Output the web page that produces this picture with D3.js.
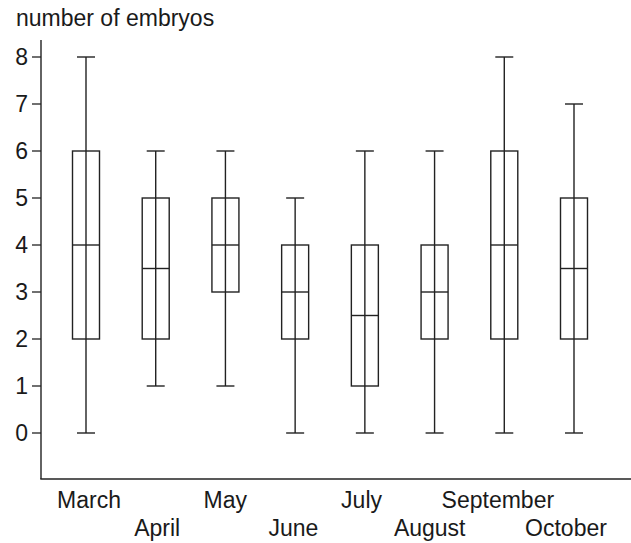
<!DOCTYPE html>
<html>
<head>
<meta charset="utf-8">
<script src="https://cdn.jsdelivr.net/npm/d3@7.9.0/dist/d3.min.js"></script>
<style>
  body { margin: 0; background: #fff; }
  svg text { font-family: "Liberation Sans", Arial, sans-serif; fill: #1a1a1a; }
</style>
</head>
<body>
<svg id="chart" width="631" height="543"></svg>
<script>
const months = ['March', 'April', 'May', 'June', 'July', 'August', 'September', 'October'];
const mins    = [0, 1, 1, 0, 0, 0, 0, 0];
const q1s     = [2, 2, 3, 2, 1, 2, 2, 2];
const medians = [4, 3.5, 4, 3, 2.5, 3, 4, 3.5];
const q3s     = [6, 5, 5, 4, 4, 4, 6, 5];
const maxs    = [8, 6, 6, 5, 6, 6, 8, 7];
const yTicks  = [0, 1, 2, 3, 4, 5, 6, 7, 8];

const svg = d3.select('#chart');
const ink = '#222';
const fs = 23;

let x = d3.scalePoint().domain(months).range([86, 574]);
// labels sit on a slightly tighter spread than the boxes
let xLabel = d3.scalePoint().domain(months).range([89, 566]);
let y = d3.scaleLinear().domain([0, 8]).range([433, 57]);

// axes
svg.append('line')
  .attr('x1', 41).attr('x2', 41)
  .attr('y1', 40).attr('y2', 479)
  .attr('stroke', ink).attr('stroke-width', 1.4);
svg.append('line')
  .attr('x1', 40.3).attr('x2', 631)
  .attr('y1', 479).attr('y2', 479)
  .attr('stroke', ink).attr('stroke-width', 1.4);

yTicks.forEach((t) => {
  svg.append('line')
    .attr('x1', 32).attr('x2', 41)
    .attr('y1', y(t)).attr('y2', y(t))
    .attr('stroke', ink).attr('stroke-width', 1.3);
  svg.append('text')
    .attr('x', 28).attr('y', y(t) + 8)
    .attr('text-anchor', 'end')
    .attr('font-size', fs)
    .text(t);
});

svg.append('text')
  .attr('x', 16).attr('y', 26)
  .attr('font-size', fs)
  .text('number of embryos');

// month labels, staggered on two rows
months.forEach((m, i) => {
  svg.append('text')
    .attr('x', xLabel(m))
    .attr('y', i % 2 === 0 ? 508 : 536)
    .attr('text-anchor', 'middle')
    .attr('font-size', fs)
    .text(m);
});

// boxes
const boxW = 27, capW = 18;
months.forEach((m, i) => {
  let cx = x(m);
  let g = svg.append('g')
    .attr('stroke', ink).attr('stroke-width', 1.4).attr('fill', 'none');
  g.append('line')
    .attr('x1', cx).attr('x2', cx)
    .attr('y1', y(mins[i])).attr('y2', y(maxs[i]));
  g.append('line')
    .attr('x1', cx - capW / 2).attr('x2', cx + capW / 2)
    .attr('y1', y(mins[i])).attr('y2', y(mins[i]));
  g.append('line')
    .attr('x1', cx - capW / 2).attr('x2', cx + capW / 2)
    .attr('y1', y(maxs[i])).attr('y2', y(maxs[i]));
  g.append('rect')
    .attr('x', cx - boxW / 2).attr('width', boxW)
    .attr('y', y(q3s[i])).attr('height', y(q1s[i]) - y(q3s[i]));
  g.append('line')
    .attr('x1', cx - boxW / 2).attr('x2', cx + boxW / 2)
    .attr('y1', y(medians[i])).attr('y2', y(medians[i]));
});
</script>
</body>
</html>
